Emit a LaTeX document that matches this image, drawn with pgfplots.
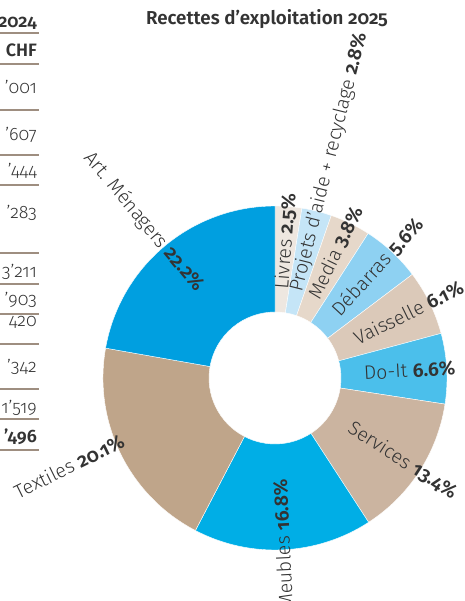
\documentclass[border=0pt]{standalone}
\usepackage{pgfplots}
\pgfplotsset{compat=1.18}
\usepackage{fontspec}
\setmainfont{Fira Sans}[UprightFont={Fira Sans Light}, BoldFont={Fira Sans SemiBold}, Numbers=OldStyle]
\definecolor{cLiv}{HTML}{EEE7E0}
\definecolor{cPro}{HTML}{C5E5F7}
\definecolor{cMed}{HTML}{E6D8CA}
\definecolor{cDeb}{HTML}{8ED1F2}
\definecolor{cVai}{HTML}{DBC9B9}
\definecolor{cDoi}{HTML}{4BBFEB}
\definecolor{cSer}{HTML}{CBB4A0}
\definecolor{cMeu}{HTML}{00AEE6}
\definecolor{cTex}{HTML}{BFA58A}
\definecolor{cArt}{HTML}{009FE0}
\definecolor{txt}{HTML}{333333}
\definecolor{rule}{HTML}{9E8E80}
\def\cum{0}
\newcommand\slice[2]{%
  \pgfmathsetmacro\aA{90-\cum*3.603604}%
  \pgfmathsetmacro\cumnew{\cum+#1}%
  \pgfmathsetmacro\aB{90-\cumnew*3.603604}%
  \xdef\cum{\cumnew}%
  \edef\doslice{\noexpand\fill[#2, draw=white, line width=0.4bp] ([shift={(\aA:172bp)}]axis cs:275,223) arc[start angle=\aA, end angle=\aB, radius=172bp] -- ([shift={(\aB:66bp)}]axis cs:275,223) arc[start angle=\aB, end angle=\aA, radius=66bp] -- cycle;}%
  \doslice}
\newcommand\lfont{\fontsize{19.5}{22}\selectfont}
\newcommand\rlab[2]{\node[anchor=west, rotate=#1, inner sep=0pt, text=txt, font=\lfont] at ([shift={(#1:89bp)}]axis cs:275,223) {#2};}
\begin{document}
\begin{tikzpicture}
\useasboundingbox (0,0) rectangle (465bp,601bp);
\clip (0,0) rectangle (465bp,601bp);
\begin{axis}[x=1bp, y=1bp, xmin=0, xmax=465, ymin=0, ymax=601, hide axis, clip=false, at={(0,0)}, anchor=south west,
  font=\fontsize{18}{21}\selectfont]
% donut slices, clockwise from 12 o'clock (percent)
\slice{2.5}{cLiv}
\slice{2.8}{cPro}
\slice{3.8}{cMed}
\slice{5.6}{cDeb}
\slice{6.1}{cVai}
\slice{6.6}{cDoi}
\slice{13.4}{cSer}
\slice{16.8}{cMeu}
\slice{20.1}{cTex}
\slice{22.2}{cArt}
% labels
\rlab{85.5}{Livres \textbf{2.5\%}}
\rlab{75.95}{Projets d’aide + recyclage \textbf{2.8\%}}
\rlab{64.05}{Media \textbf{3.8\%}}
\rlab{47.12}{Débarras \textbf{5.6\%}}
\rlab{26.04}{Vaisselle \textbf{6.1\%}}
\rlab{3.15}{Do-It \textbf{6.6\%}}
\rlab{-32.88}{Services \textbf{13.4\%}}
\node[anchor=east, rotate=92.7, inner sep=0pt, text=txt, font=\lfont] at (axis cs:280,122) {Meubles \textbf{16.8\%}};
\node[anchor=east, rotate=26.2, inner sep=0pt, text=txt, font=\lfont] at (axis cs:123,161) {Textiles \textbf{20.1\%}};
\node[anchor=east, rotate=-50, inner sep=0pt, text=txt, font=\lfont] at ([shift={(130:116bp)}]axis cs:275,223) {Art. Ménagers \textbf{22.2\%}};
% title
\node[font=\bfseries\fontsize{18.8}{22}\selectfont, text=txt] at (axis cs:267,582) {Recettes d’exploitation 2025};
% partial table on the left
\addplot[rule, line width=1.1bp, forget plot] coordinates {(0,568) (39,568)};
\addplot[rule, line width=1.1bp, forget plot] coordinates {(0,537) (39,537)};
\addplot[rule, line width=1.1bp, forget plot] coordinates {(0,491) (39,491)};
\addplot[rule, line width=1.1bp, forget plot] coordinates {(0,446) (39,446)};
\addplot[rule, line width=1.1bp, forget plot] coordinates {(0,416) (39,416)};
\addplot[rule, line width=1.1bp, forget plot] coordinates {(0,348) (39,348)};
\addplot[rule, line width=1.1bp, forget plot] coordinates {(0,317) (39,317)};
\addplot[rule, line width=1.1bp, forget plot] coordinates {(0,287) (39,287)};
\addplot[rule, line width=1.1bp, forget plot] coordinates {(0,257) (39,257)};
\addplot[rule, line width=1.1bp, forget plot] coordinates {(0,212) (39,212)};
\addplot[rule, line width=1.1bp, forget plot] coordinates {(0,182) (39,182)};
\addplot[rule, line width=1.1bp, forget plot] coordinates {(0,151) (39,151)};
\begin{scope}[every node/.style={anchor=base east, inner sep=0pt, text=txt}]
\node at (axis cs:37,573) {\textbf{2024}};
\node at (axis cs:37,544) {\textbf{CHF}};
\node at (axis cs:37,507) {’001};
\node at (axis cs:37,460) {’607};
\node at (axis cs:37,424) {’444};
\node at (axis cs:37,383) {’283};
\node at (axis cs:37,324) {3’211};
\node at (axis cs:37,296) {’903};
\node at (axis cs:37,275) {420};
\node at (axis cs:37,229) {’342};
\node at (axis cs:37,188) {1’519};
\node at (axis cs:37,159) {\textbf{’496}};
\end{scope}
\end{axis}
\end{tikzpicture}
\end{document}
